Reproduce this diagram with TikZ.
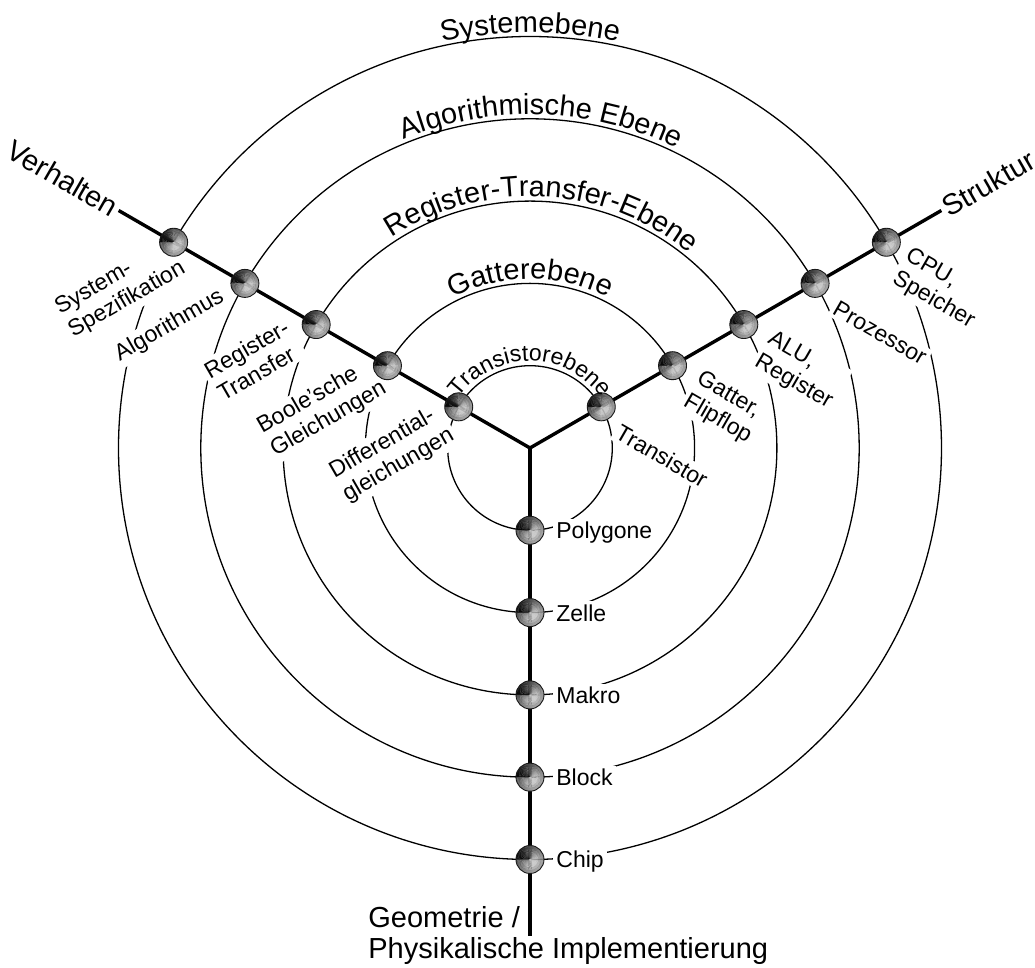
\documentclass[tikz,border=0pt]{standalone}
\usepackage{fontspec}
\setmainfont{Liberation Sans}
\usetikzlibrary{decorations.text}

% font sizes: titles of the levels and axes, and the small entries
\newcommand\ybig{\fontsize{14.5}{17}\selectfont}
\newcommand\ysmall{\fontsize{11.5}{13.2}\selectfont}

\begin{document}
\begin{tikzpicture}[x=0.5pt,y=0.5pt,
  yring/.style={line width=0.65pt, black},
  axisline/.style={line width=1.7pt, black, line cap=butt},
  % metallic bead: conical grey ramp with a dark seam on the left
  ybead/.style={circle, minimum size=14pt, inner sep=0pt, draw=black!90, line width=0.45pt,
    path picture={
      \foreach \a in {0,5,...,355}{
        \pgfmathsetmacro\yt{mod(180-\a-2.5+720,360)}
        \pgfmathsetmacro\yb{4+74*(sin(0.4*\yt))^1.5}
        \fill[white!\yb!black] (path picture bounding box.center) -- ++(\a:8pt)
          arc[start angle=\a, end angle=\a+5.6, radius=8pt] -- cycle;
      }
      \draw[black, opacity=0.18, line width=1.6pt] (path picture bounding box.center) circle[radius=6.2pt];
      \draw[black, opacity=0.10, line width=1.4pt] (path picture bounding box.center) circle[radius=4.8pt];
    }},
  lvl/.style={font=\ysmall, fill=white, inner sep=1.5pt, align=left},
  ttl/.style={font=\ybig, inner sep=1.5pt},
  arctext/.style={decorate, decoration={text along path, text align=center, text={#1}}}
]
\useasboundingbox (-530,-520) rectangle (505,448);

\coordinate (O) at (0,0);
\coordinate (vEnd) at (150:475);
\coordinate (sEnd) at (30:475);
\coordinate (gEnd) at (270:488);

% concentric levels
\foreach \k in {1,...,5}
  \draw[yring] (O) circle[radius=82.3*\k];

% entries on the behaviour axis (they interrupt the circles)
\node[lvl, rotate=30] (lSys) at (-409.5,159.3) {System-\\Spezifikation};
\node[lvl, rotate=30] (lAlg) at (-360.5,122) {Algorithmus};
\node[lvl, rotate=30] (lRT)  at (-277,88) {Register-\\Transfer};
\node[lvl, rotate=30] (lBoo) at (-208,40) {Boole'sche\\Gleichungen};
\node[lvl, rotate=30] (lDif) at (-138,-6) {Differential-\\gleichungen};

% entries on the structure axis
\node[lvl, rotate=-30] (rCPU) at (410,159) {CPU,\\Speicher};
\node[lvl, rotate=-30] (rPro) at (350,115) {Prozessor};
\node[lvl, rotate=-30] (rALU) at (270,77) {ALU,\\Register};
\node[lvl, rotate=-30] (rGat) at (194,40) {Gatter,\\Flipflop};
\node[lvl, rotate=-30] (rTra) at (132,-8) {Transistor};

% entries on the geometry axis
\node[lvl, anchor=base west] (gPol) at (23,-90.8)  {Polygone};
\node[lvl, anchor=base west] (gZel) at (23,-173.1) {Zelle};
\node[lvl, anchor=base west] (gMak) at (23,-255.4) {Makro};
\node[lvl, anchor=base west] (gBlo) at (23,-337.7) {Block};
\node[lvl, anchor=base west] (gChi) at (23,-420)   {Chip};

% the three axes
\draw[axisline] (O) -- (vEnd);
\draw[axisline] (O) -- (sEnd);
\draw[axisline] (O) -- (gEnd);

% beads where the levels meet the axes
\foreach \k in {1,...,5}{
  \node[ybead] (vb\k) at (150:82.3*\k) {};
  \node[ybead] (sb\k) at (30:82.3*\k) {};
  \node[ybead] (gb\k) at (270:82.3*\k) {};
}

% level names along the upper arcs
\path[arctext={|\ybig|Systemebene}] (150:415.5) arc[start angle=150, end angle=30, radius=415.5];
\path[arctext={|\ybig|Algorithmische Ebene}] (148:333.5) arc[start angle=148, end angle=28, radius=333.5];
\path[arctext={|\ybig|Register-Transfer-Ebene}] (147:251.5) arc[start angle=147, end angle=27, radius=251.5];
\path[arctext={|\ybig|Gatterebene}] (150:169) arc[start angle=150, end angle=30, radius=169];
\path[arctext={|\ysmall|Transistorebene}] (170:87) arc[start angle=170, end angle=10, radius=87];

% axis names
\node[ttl, rotate=-30, anchor=east] (tVer) at (vEnd) {Verhalten};
\node[ttl, rotate=30, anchor=west] (tStr) at (sEnd) {Struktur};
\node[font={\fontsize{14.5}{15.5}\selectfont}, align=left, anchor=north west, inner sep=0pt]
  (tGeo) at (-162,-458) {Geometrie /\\Physikalische Implementierung};
\end{tikzpicture}
\end{document}
